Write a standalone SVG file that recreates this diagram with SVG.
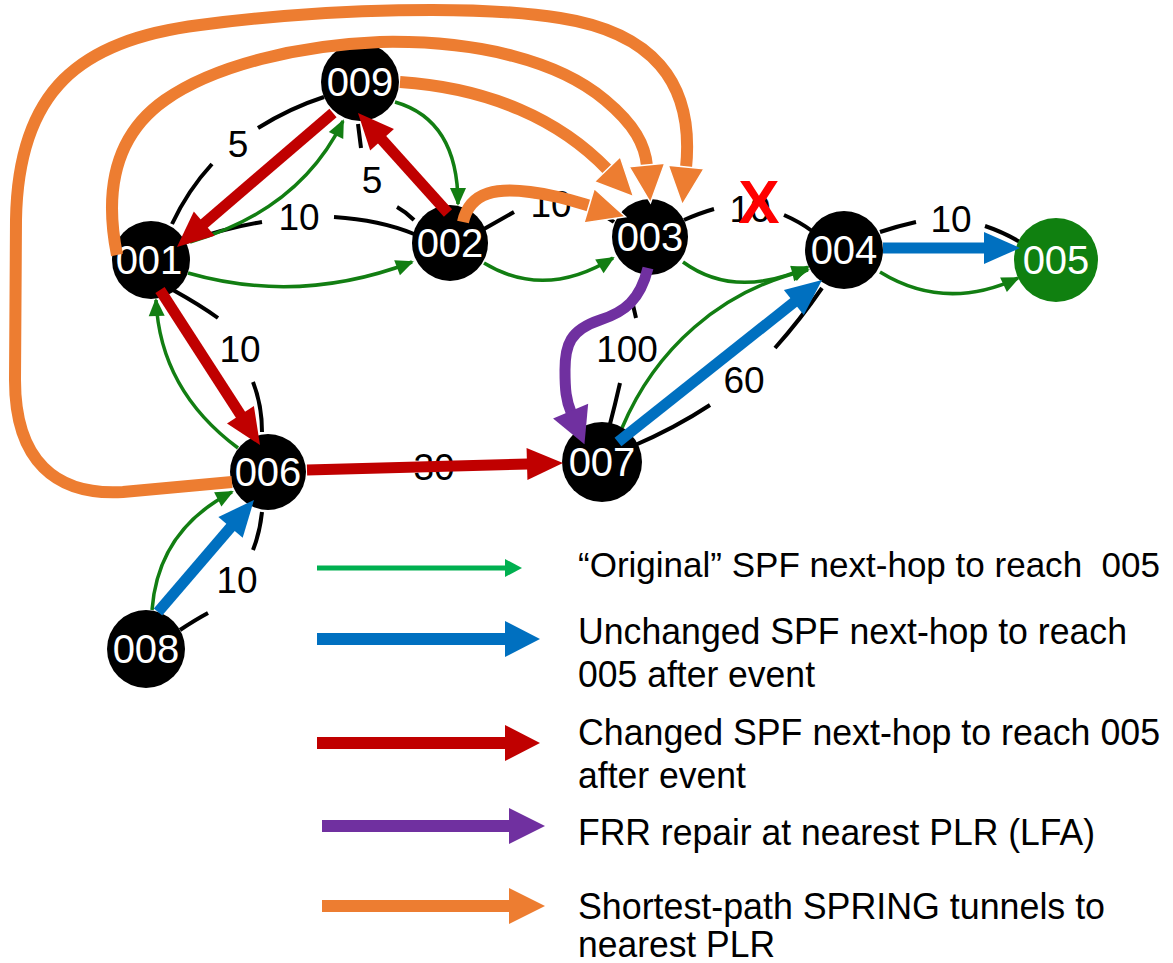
<svg xmlns="http://www.w3.org/2000/svg" width="1173" height="963" viewBox="0 0 1173 963">
<style>
.edge{fill:none;stroke:#000;stroke-width:4;stroke-linecap:butt}
.lbl{font-family:"Liberation Sans",Arial,sans-serif;font-size:37px;fill:#000;text-anchor:middle}
.g{fill:none;stroke:#127e12;stroke-width:3.5}
.r{fill:none;stroke:#c00000;stroke-width:11}
.b{fill:none;stroke:#0070c0;stroke-width:11}
.p{fill:none;stroke:#7030a0;stroke-width:11}
.o{fill:none;stroke:#ed7d31;stroke-width:12}
.node{fill:#000}
.nt{font-family:"Liberation Sans",Arial,sans-serif;font-size:40px;fill:#fff;text-anchor:middle}
.leg{font-family:"Liberation Sans",Arial,sans-serif;font-size:36px;fill:#000}
</style>
<defs>
<marker id="mG" markerUnits="userSpaceOnUse" markerWidth="18" markerHeight="16" refX="16" refY="8" orient="auto" overflow="visible"><path d="M0,0 L18,8 L0,16 z" fill="#127e12"/></marker>
<marker id="mR" markerUnits="userSpaceOnUse" markerWidth="36" markerHeight="32" refX="1" refY="16" orient="auto" overflow="visible"><path d="M0,0 L36,16 L0,32 z" fill="#c00000"/></marker>
<marker id="mB" markerUnits="userSpaceOnUse" markerWidth="36" markerHeight="32" refX="1" refY="16" orient="auto" overflow="visible"><path d="M0,0 L36,16 L0,32 z" fill="#0070c0"/></marker>
<marker id="mP" markerUnits="userSpaceOnUse" markerWidth="36" markerHeight="38" refX="1" refY="19" orient="auto" overflow="visible"><path d="M0,0 L36,19 L0,38 z" fill="#7030a0"/></marker>
<marker id="mO" markerUnits="userSpaceOnUse" markerWidth="38" markerHeight="36" refX="1" refY="18" orient="auto" overflow="visible"><path d="M0,0 L38,18 L0,36 z" fill="#ed7d31" stroke="#fff" stroke-width="1.5"/></marker>
</defs>
<rect width="1173" height="963" fill="#fff"/>
<g id="links">
<path class="edge" d="M172,224 Q188,190 212,164 M258,128 Q290,108 324,97"/>
<path class="edge" d="M358,124 L361,148 M397,207 Q406,212 414,220"/>
<path class="edge" d="M186,242 Q225,228 262,222 M334,217 Q380,220 414,234"/>
<path class="edge" d="M484,229 Q500,220 514,212 M590,212 Q605,215 614,222"/>
<path class="edge" d="M684,220 Q700,213 714,209 M784,215 Q800,222 812,231"/>
<path class="edge" d="M880,232 Q898,226 916,222 M985,226 Q1003,232 1020,242"/>
<path class="edge" d="M173,290 Q200,305 218,318 M253,382 Q262,405 262,432"/>
<path class="edge" d="M262,512 Q260,532 253,550 M180,630 Q195,620 208,613"/>
<path class="edge" d="M633,305 L636,318 M620,383 Q615,405 610,424"/>
<path class="edge" d="M633,446 Q675,428 710,405 M775,348 Q800,320 822,288"/>
<text class="lbl" x="238" y="157">5</text>
<text class="lbl" x="372" y="193">5</text>
<text class="lbl" x="299" y="230">10</text>
<text class="lbl" x="551" y="217">10</text>
<text class="lbl" x="750" y="222">10</text>
<text class="lbl" x="951" y="232">10</text>
<text class="lbl" x="240" y="362">10</text>
<text class="lbl" x="237" y="593">10</text>
<text class="lbl" x="627" y="362">100</text>
<text class="lbl" x="744" y="393">60</text>
<text class="lbl" x="434" y="480">30</text>
</g>
<g id="connectors">
<path class="g" marker-end="url(#mG)" d="M190,242 Q300,210 343,121"/>
<path class="g" marker-end="url(#mG)" d="M395,102 Q458,120 458,204"/>
<path class="g" marker-end="url(#mG)" d="M188,273 Q300,305 412,262"/>
<path class="g" marker-end="url(#mG)" d="M484,263 Q545,300 613,258"/>
<path class="g" marker-end="url(#mG)" d="M683,262 Q735,300 808,267"/>
<path class="g" marker-end="url(#mG)" d="M880,272 Q945,312 1018,278"/>
<path class="g" marker-end="url(#mG)" d="M622,428 C655,350 720,290 808,270"/>
<path class="g" marker-end="url(#mG)" d="M238,448 Q160,390 156,300"/>
<path class="g" marker-end="url(#mG)" d="M152,610 Q158,530 232,492"/>
</g>
<g id="n009"><circle class="node" cx="360" cy="82" r="39"/><text class="nt" x="360" y="96">009</text></g>
<g id="n001"><circle class="node" cx="151" cy="260" r="39"/><text class="nt" x="149" y="274">001</text></g>
<g id="n002"><circle class="node" cx="450" cy="243" r="38"/><text class="nt" x="450" y="257">002</text></g>
<g id="n003"><circle class="node" cx="650" cy="237" r="38"/><text class="nt" x="650" y="251">003</text></g>
<g id="n004"><circle class="node" cx="844" cy="250" r="39"/><text class="nt" x="844" y="264">004</text></g>
<g id="n005"><circle cx="1056" cy="260" r="42" fill="#108010"/><text class="nt" x="1056" y="274">005</text></g>
<g id="n006"><circle class="node" cx="268" cy="472" r="38"/><text class="nt" x="268" y="486">006</text></g>
<g id="n007"><circle class="node" cx="602" cy="462" r="40"/><text class="nt" x="602" y="476">007</text></g>
<g id="n008"><circle class="node" cx="146" cy="649" r="39"/><text class="nt" x="146" y="663">008</text></g>
<g id="paths">
<path class="r" marker-end="url(#mR)" d="M333,113 L203.5,224.2"/>
<path class="r" marker-end="url(#mR)" d="M448,213 L381.4,139"/>
<path class="r" marker-end="url(#mR)" d="M160,290 L241,415.6"/>
<path class="r" marker-end="url(#mR)" d="M307,470 L528,464"/>
<path class="b" marker-end="url(#mB)" d="M883,248 L985,248"/>
<path class="b" marker-end="url(#mB)" d="M618,442 L794.6,301.8"/>
<path class="b" marker-end="url(#mB)" d="M158,612 L231.2,526.6"/>
<path class="p" marker-end="url(#mP)" d="M648,268 C640,300 625,312 600,320 C570,330 565,345 565,370 C565,390 566,400 571,412"/>
<path class="o" marker-end="url(#mO)" d="M232,482 L123,492 C55,496 15,460 15,380 L16,220 C18,90 80,40 200,25 C330,8 480,5 560,18 C650,32 695,80 686,168"/>
<path class="o" marker-end="url(#mO)" d="M117,255 C104,190 115,135 165,100 C215,65 300,45 380,42 C480,40 560,62 605,100 C635,125 645,145 647,166"/>
<path class="o" marker-end="url(#mO)" d="M400,82 C490,88 560,120 608,170"/>
<path class="o" marker-end="url(#mO)" d="M463,222 C470,190 500,188 530,192 C555,195 570,200 590,206"/>
</g>
<text x="759" y="223" font-family="Liberation Sans,Arial,sans-serif" font-size="62" font-weight="bold" fill="#ff0000" text-anchor="middle">X</text>
<g id="legend">
<line x1="317" y1="568" x2="506" y2="568" stroke="#00b050" stroke-width="5"/>
<polygon points="505,559 522,568 505,577" fill="#00b050"/>
<line x1="317" y1="639" x2="506" y2="639" stroke="#0070c0" stroke-width="12"/>
<polygon points="505,621 540,639 505,657" fill="#0070c0"/>
<line x1="317" y1="743" x2="506" y2="743" stroke="#c00000" stroke-width="12"/>
<polygon points="505,725 540,743 505,761" fill="#c00000"/>
<line x1="322" y1="826" x2="510" y2="826" stroke="#7030a0" stroke-width="12"/>
<polygon points="509,808 545,826 509,844" fill="#7030a0"/>
<line x1="322" y1="906" x2="510" y2="906" stroke="#ed7d31" stroke-width="12"/>
<polygon points="509,888 545,906 509,924" fill="#ed7d31"/>
<text class="leg" x="578" y="577" font-size="35" textLength="582" lengthAdjust="spacingAndGlyphs" xml:space="preserve" style="font-size:35px">“Original” SPF next-hop to reach  005</text>
<text class="leg" x="578" y="644" textLength="549" lengthAdjust="spacingAndGlyphs">Unchanged SPF next-hop to reach</text>
<text class="leg" x="578" y="687" textLength="237" lengthAdjust="spacingAndGlyphs">005 after event</text>
<text class="leg" x="578" y="745" textLength="582" lengthAdjust="spacingAndGlyphs">Changed SPF next-hop to reach 005</text>
<text class="leg" x="578" y="788" textLength="168" lengthAdjust="spacingAndGlyphs">after event</text>
<text class="leg" x="578" y="845" textLength="517" lengthAdjust="spacingAndGlyphs">FRR repair at nearest PLR (LFA)</text>
<text class="leg" x="578" y="919" textLength="527" lengthAdjust="spacingAndGlyphs">Shortest-path SPRING tunnels to</text>
<text class="leg" x="578" y="957" textLength="197" lengthAdjust="spacingAndGlyphs">nearest PLR</text>
</g>
</svg>
